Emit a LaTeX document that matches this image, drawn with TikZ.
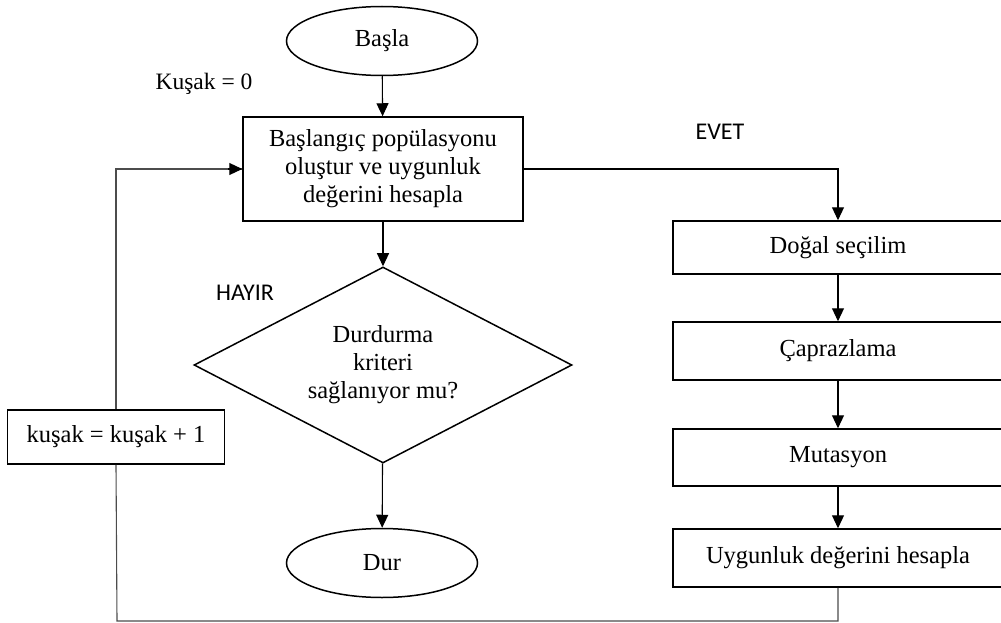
\documentclass[tikz,border=0pt]{standalone}
\usepackage{fontspec}
\setmainfont{Liberation Serif}
\newfontfamily\lblfont{Carlito}
\usetikzlibrary{shapes.geometric,arrows.meta}

\begin{document}
\begin{tikzpicture}[x=1pt,y=-1pt,
  base/.style={draw,line width=1.5pt,inner sep=0pt,align=center,
    font=\fontsize{24.5}{28}\selectfont},
  stepbox/.style={base,rectangle},
  term/.style={base,ellipse,minimum width=191,minimum height=69},
  decision/.style={base,diamond,shape aspect=1.9},
  colbox/.style={stepbox,minimum width=330},
  tip/.style={-{Triangle[length=13pt,width=12pt]}},
  conn/.style={line width=1.1pt,tip},
  back/.style={line width=1.1pt,black!70},
  lbl/.style={font=\lblfont\fontsize{24}{28}\selectfont},
  note/.style={font=\fontsize{23.5}{27}\selectfont}]
\useasboundingbox (0,0) rectangle (1001,623);
\clip (0,0) rectangle (1001,623);

% main column
\node[term] (start) at (382,41) {Başla};
\node[stepbox,minimum width=280,minimum height=104] (init) at (383,169)
  {Başlangıç popülasyonu\\oluştur ve uygunluk\\değerini hesapla};
\node[decision,minimum width=378,minimum height=196] (check) at (383,365)
  {Durdurma\\kriteri\\sağlanıyor mu?};
\node[term] (stop) at (382,563) {Dur};

% generation counter
\node[stepbox,minimum width=217,minimum height=54] (inc) at (116,437)
  {kuşak = kuşak + 1};

% genetic operators column
\node[colbox,minimum height=53] (sel) at (838,247.5) {Doğal seçilim};
\node[colbox,minimum height=58] (cross) at (838,351) {Çaprazlama};
\node[colbox,minimum height=57] (mut) at (838,457.5) {Mutasyon};
\node[colbox,minimum height=58] (fit) at (838,558) {Uygunluk değerini hesapla};

% labels
\node[note] (k0) at (204,84) {Kuşak = 0};
\node[lbl] (yes) at (720,132) {EVET};
\node[lbl] (no) at (245,293) {HAYIR};

% connectors
\draw[conn] (start) -- (init);
\draw[conn] (init) -- (check);
\draw[conn] (check) -- (stop);
\draw[conn] (init.east) -| (sel.north);
\draw[conn] (sel) -- (cross);
\draw[conn] (cross) -- (mut);
\draw[conn] (mut) -- (fit);

% loop back to the population step
\coordinate (corner) at (117,621);
\draw[back] (fit.south) |- (corner) -- (inc.south);
\draw[back] (inc.north) |- (init.west);
\draw[conn] ([xshift=-14pt]init.west) -- (init.west);
\end{tikzpicture}
\end{document}
